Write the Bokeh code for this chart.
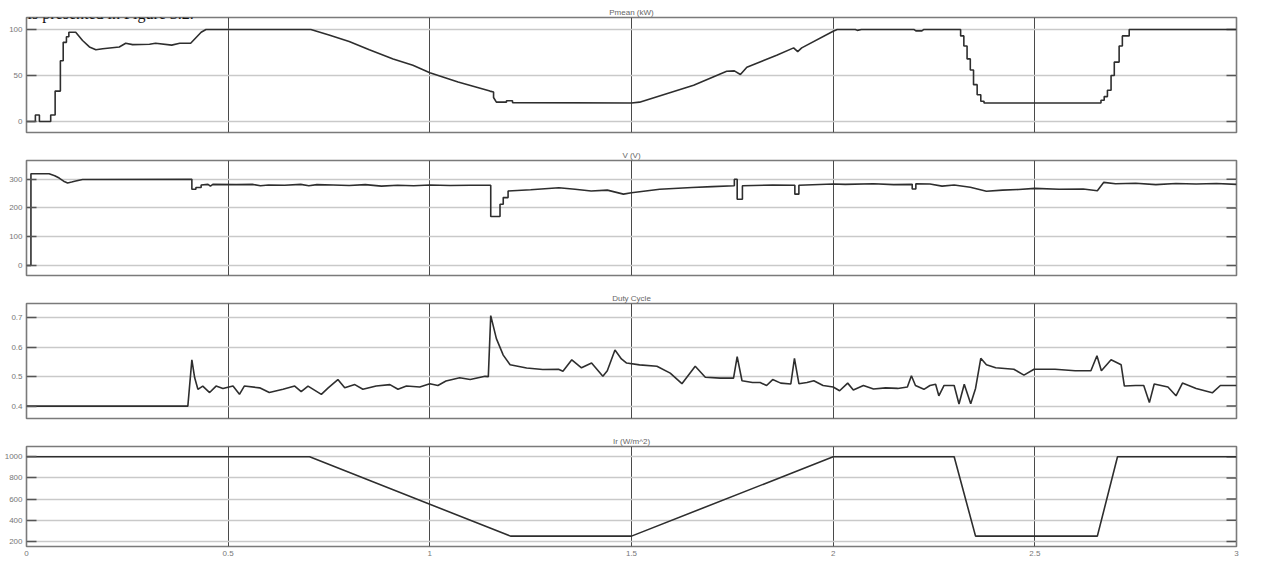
from bokeh.plotting import figure
from bokeh.layouts import column
from bokeh.models import FixedTicker, Range1d, Label
from bokeh.embed import file_html
from bokeh.resources import INLINE

# ---------------- data ----------------
x_ticks = [0, 0.5, 1, 1.5, 2, 2.5, 3]
x_tick_labels = ["0", "0.5", "1", "1.5", "2", "2.5", "3"]

panel_titles = ["Pmean (kW)", "V (V)", "Duty Cycle", "Ir (W/m^2)"]
caption_text = "sult is presented in Figure 3.2."

pmean_t = [0, 0.022, 0.022, 0.032, 0.032, 0.060, 0.060, 0.071, 0.071, 0.084,
           0.084, 0.091, 0.091, 0.099, 0.099, 0.105, 0.105, 0.122, 0.139, 0.156,
           0.172, 0.189, 0.230, 0.246, 0.263, 0.305, 0.320, 0.360, 0.380, 0.407,
           0.420, 0.433, 0.445, 0.705, 0.750, 0.800, 0.850, 0.909, 0.958, 1.000,
           1.070, 1.149, 1.158, 1.158, 1.165, 1.190, 1.190, 1.205, 1.205, 1.500,
           1.520, 1.654, 1.736, 1.755, 1.770, 1.786, 1.860, 1.902, 1.912, 1.922,
           2.000, 2.010, 2.055, 2.060, 2.070, 2.200, 2.205, 2.220, 2.225, 2.316,
           2.316, 2.324, 2.324, 2.332, 2.332, 2.340, 2.340, 2.348, 2.348, 2.357,
           2.357, 2.366, 2.366, 2.374, 2.374, 2.664, 2.664, 2.672, 2.672, 2.680,
           2.680, 2.689, 2.689, 2.697, 2.697, 2.709, 2.709, 2.717, 2.717, 2.734,
           2.734, 3.000]
pmean_v = [0, 0, 7, 7, 0, 0, 7, 7, 33, 33,
           66, 66, 86, 86, 92, 92, 97, 97, 88, 81,
           78, 79, 81, 85, 83.5, 84, 85, 83, 85, 85,
           91, 97, 100, 100, 94, 87, 78, 68, 61, 53,
           43, 33, 32, 26, 21, 21, 22.5, 22.5, 20.5, 20,
           21, 39.4, 54.5, 55, 51, 59, 72, 80, 76, 80,
           98, 100, 100, 99, 100, 100, 98.5, 98.5, 100, 100,
           93, 93, 82, 82, 68, 68, 56, 56, 40, 40,
           29, 29, 22, 22, 20, 20, 23, 23, 27, 27,
           34, 34, 50, 50, 64.5, 64.5, 82, 82, 93, 93,
           100, 100]

volt_t = [0, 0.011, 0.011, 0.056, 0.070, 0.081, 0.092, 0.102, 0.112, 0.122,
          0.139, 0.410, 0.410, 0.420, 0.420, 0.433, 0.433, 0.450, 0.456, 0.462,
          0.520, 0.560, 0.580, 0.600, 0.640, 0.680, 0.700, 0.720, 0.760, 0.800,
          0.840, 0.880, 0.920, 0.960, 1.000, 1.050, 1.100, 1.151, 1.151, 1.174,
          1.174, 1.182, 1.182, 1.194, 1.194, 1.250, 1.320, 1.360, 1.400, 1.440,
          1.480, 1.500, 1.570, 1.650, 1.700, 1.755, 1.755, 1.762, 1.762, 1.775,
          1.775, 1.850, 1.905, 1.905, 1.915, 1.915, 2.000, 2.030, 2.100, 2.150,
          2.196, 2.196, 2.205, 2.205, 2.240, 2.270, 2.300, 2.340, 2.380, 2.420,
          2.460, 2.500, 2.560, 2.620, 2.655, 2.671, 2.700, 2.750, 2.800, 2.850,
          2.900, 2.950, 3.000]
volt_v = [0, 0, 319, 319, 312, 304, 293, 287, 290, 294,
          299, 300, 265, 265, 271, 271, 280, 282, 276, 282,
          281, 282, 277, 280, 279, 282, 277, 281, 280, 278,
          281, 276, 279, 277, 280, 278, 279, 279, 170, 170,
          213, 213, 236, 236, 259, 263, 270, 265, 259, 262,
          248, 253, 265, 271, 274, 277, 300, 300, 230, 230,
          277, 280, 279, 248, 248, 279, 283, 282, 284, 281,
          282, 266, 266, 284, 283, 276, 280, 272, 258, 262,
          264, 268, 265, 266, 260, 289, 284, 286, 281, 285,
          283, 285, 282]

duty_t = [0, 0.400, 0.410, 0.417, 0.425, 0.437, 0.454, 0.470, 0.487, 0.512,
          0.528, 0.540, 0.578, 0.602, 0.636, 0.665, 0.681, 0.698, 0.731, 0.748,
          0.772, 0.789, 0.814, 0.834, 0.867, 0.901, 0.921, 0.942, 0.975, 1.000,
          1.020, 1.040, 1.074, 1.100, 1.137, 1.145, 1.151, 1.165, 1.182, 1.199,
          1.240, 1.280, 1.319, 1.330, 1.352, 1.376, 1.401, 1.429, 1.440, 1.459,
          1.475, 1.488, 1.520, 1.563, 1.596, 1.625, 1.658, 1.683, 1.720, 1.753,
          1.762, 1.774, 1.800, 1.819, 1.835, 1.850, 1.870, 1.895, 1.904, 1.915,
          1.935, 1.952, 1.975, 2.000, 2.016, 2.036, 2.050, 2.075, 2.100, 2.130,
          2.160, 2.184, 2.194, 2.204, 2.225, 2.240, 2.254, 2.262, 2.275, 2.300,
          2.312, 2.325, 2.341, 2.353, 2.366, 2.380, 2.403, 2.448, 2.473, 2.498,
          2.550, 2.600, 2.639, 2.654, 2.665, 2.689, 2.714, 2.722, 2.750, 2.770,
          2.784, 2.796, 2.830, 2.850, 2.866, 2.900, 2.940, 2.960, 3.000]
duty_v = [0.400, 0.400, 0.557, 0.496, 0.457, 0.468, 0.446, 0.468, 0.460, 0.468,
          0.440, 0.468, 0.462, 0.446, 0.457, 0.468, 0.449, 0.468, 0.440, 0.462,
          0.490, 0.462, 0.473, 0.457, 0.468, 0.473, 0.457, 0.468, 0.465, 0.476,
          0.470, 0.485, 0.496, 0.490, 0.501, 0.500, 0.707, 0.629, 0.573, 0.540,
          0.529, 0.524, 0.525, 0.518, 0.557, 0.530, 0.546, 0.501, 0.520, 0.590,
          0.560, 0.546, 0.540, 0.535, 0.512, 0.476, 0.535, 0.498, 0.495, 0.495,
          0.568, 0.486, 0.480, 0.480, 0.470, 0.490, 0.478, 0.475, 0.562, 0.476,
          0.480, 0.486, 0.470, 0.465, 0.452, 0.478, 0.455, 0.470, 0.458, 0.462,
          0.460, 0.465, 0.503, 0.470, 0.457, 0.470, 0.474, 0.435, 0.470, 0.470,
          0.407, 0.474, 0.408, 0.460, 0.562, 0.540, 0.530, 0.525, 0.505, 0.525,
          0.525, 0.520, 0.520, 0.571, 0.520, 0.557, 0.540, 0.468, 0.470, 0.470,
          0.412, 0.475, 0.465, 0.435, 0.478, 0.460, 0.445, 0.470, 0.470]

irr_t = [0, 0.702, 1.200, 1.500, 2.000, 2.300, 2.353, 2.655, 2.705, 3.000]
irr_v = [1000, 1000, 250, 250, 1000, 1000, 250, 250, 1000, 1000]

y_ranges = [(-12, 113), (-35, 365), (0.358, 0.748), (152, 1097)]
y_ticks = [[0, 50, 100], [0, 100, 200, 300], [0.4, 0.5, 0.6, 0.7],
           [200, 400, 600, 800, 1000]]

series = [(pmean_t, pmean_v), (volt_t, volt_v), (duty_t, duty_v), (irr_t, irr_v)]

# ---------------- layout ----------------
W = 1245
B_LEFT, B_RIGHT = 26, 9
frame_w = W - B_LEFT - B_RIGHT
frame_h = [115, 115, 115, 100]
b_top = [17, 14, 14, 14]
b_bot = [14, 14, 14, 17]
TICK_PX = 10

LINE = "#2e2e2e"
HGRID = "#c9c9c9"
VGRID = "#4a4a4a"
FRAME = "#7a7a7a"
TXT = "#777777"

x_range = Range1d(0, 3)
figs = []
for i in range(4):
    p = figure(width=W, height=b_top[i] + frame_h[i] + b_bot[i],
               x_range=x_range, y_range=Range1d(*y_ranges[i]),
               output_backend="svg", toolbar_location=None,
               min_border_left=B_LEFT, min_border_right=B_RIGHT,
               min_border_top=b_top[i], min_border_bottom=b_bot[i],
               title=panel_titles[i])
    p.title.text_font = "Liberation Sans"
    p.title.text_font_size = "8px"
    p.title.text_font_style = "normal"
    p.title.text_color = "#666666"
    p.title.align = "center"
    p.title.standoff = 2
    p.outline_line_color = FRAME
    p.outline_line_width = 1.6
    p.background_fill_color = "white"
    p.border_fill_color = "white"

    # y axis (left) with inward ticks
    yax = p.yaxis[0]
    yax.ticker = FixedTicker(ticks=y_ticks[i])
    yax.major_tick_in = TICK_PX
    yax.major_tick_out = 0
    yax.major_tick_line_color = "#555555"
    yax.major_tick_line_width = 1.5
    yax.minor_tick_line_color = None
    yax.axis_line_color = None
    yax.major_label_text_font = "Liberation Sans"
    yax.major_label_text_font_size = "8px"
    yax.major_label_text_color = TXT
    yax.major_label_standoff = 4

    # short inward tick marks on the right edge of the frame
    tl = 3 * TICK_PX / frame_w
    n = len(y_ticks[i])
    p.segment(x0=[3] * n, x1=[3 - tl] * n, y0=y_ticks[i], y1=y_ticks[i],
              line_color="#555555", line_width=1.5)

    # grids
    p.ygrid.ticker = FixedTicker(ticks=y_ticks[i])
    p.ygrid.grid_line_color = HGRID
    p.ygrid.grid_line_width = 1.5
    p.xgrid.ticker = FixedTicker(ticks=x_ticks)
    p.xgrid.grid_line_color = VGRID
    p.xgrid.grid_line_width = 1

    xax = p.xaxis[0]
    xax.ticker = FixedTicker(ticks=x_ticks)
    if i < 3:
        xax.visible = False
    else:
        xax.major_label_overrides = {
            (int(v) if float(v).is_integer() else v): lab
            for v, lab in zip(x_ticks, x_tick_labels)}
        xax.major_tick_in = 0
        xax.major_tick_out = 0
        xax.minor_tick_line_color = None
        xax.axis_line_color = None
        xax.major_label_text_font = "Liberation Sans"
        xax.major_label_text_font_size = "8px"
        xax.major_label_text_color = TXT
        xax.major_label_standoff = 4

    t, v = series[i]
    p.line(t, v, line_color=LINE, line_width=1.6)
    figs.append(p)

# caption line of the surrounding document, above the first panel
px_per_unit = frame_h[0] / (y_ranges[0][1] - y_ranges[0][0])
figs[0].add_layout(Label(x=-B_LEFT * 3 / frame_w,
                         y=y_ranges[0][1] + 4 / px_per_unit,
                         text=caption_text,
                         text_font="Liberation Serif", text_font_size="16px",
                         text_color="#111111", text_baseline="alphabetic"))

layout = column(*figs, spacing=0)
open("out.html", "w").write(file_html(layout, INLINE))
